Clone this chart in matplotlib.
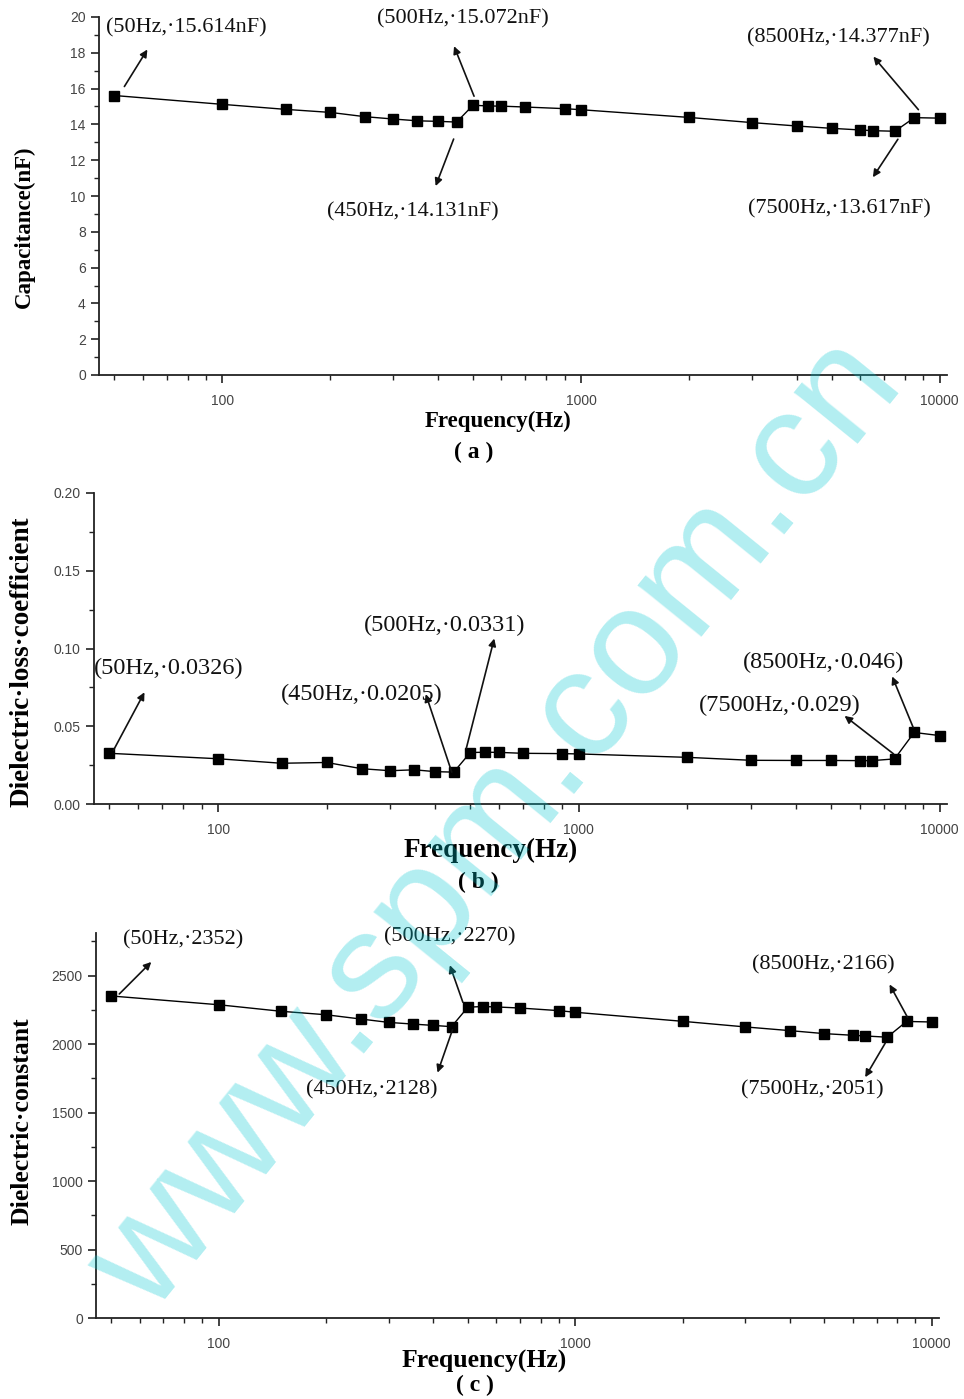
import matplotlib
matplotlib.use("Agg")
import matplotlib.pyplot as plt
import matplotlib.ticker as mticker
from matplotlib.transforms import offset_copy

# frequencies shared by the three panels (Hz)
freq = [50, 100, 150, 200, 250, 300, 350, 400, 450, 500, 550, 600, 700, 900,
        1000, 2000, 3000, 4000, 5000, 6000, 6500, 7500, 8500, 10000]

# (a) capacitance, nF
capacitance = [15.614, 15.12, 14.84, 14.67, 14.43, 14.30, 14.20, 14.17, 14.131,
               15.072, 15.03, 15.02, 14.97, 14.88, 14.82, 14.39, 14.10, 13.91,
               13.78, 13.69, 13.65, 13.617, 14.377, 14.35]

# (b) dielectric loss coefficient
loss = [0.0326, 0.0291, 0.0262, 0.0267, 0.0227, 0.0214, 0.0220, 0.0208, 0.0205,
        0.0331, 0.0333, 0.0332, 0.0326, 0.0324, 0.0322, 0.0300, 0.0281, 0.0280,
        0.0280, 0.0279, 0.0279, 0.029, 0.046, 0.0440]

# (c) dielectric constant
permittivity = [2352, 2288, 2240, 2215, 2184, 2159, 2147, 2137, 2128,
                2270, 2275, 2272, 2264, 2245, 2233, 2167, 2126, 2099,
                2077, 2065, 2060, 2051, 2166, 2162]

# annotated points
note_freq = [50, 500, 450, 8500, 7500]
notes_a = ["(50Hz,·15.614nF)", "(500Hz,·15.072nF)", "(450Hz,·14.131nF)",
           "(8500Hz,·14.377nF)", "(7500Hz,·13.617nF)"]
notes_b = ["(50Hz,·0.0326)", "(500Hz,·0.0331)", "(450Hz,·0.0205)",
           "(8500Hz,·0.046)", "(7500Hz,·0.029)"]
notes_c = ["(50Hz,·2352)", "(500Hz,·2270)", "(450Hz,·2128)",
           "(8500Hz,·2166)", "(7500Hz,·2051)"]

# layout of annotations in pixels from the point: tail, head, text centre
lay_a = [((10, 9), (33, 46), (72, 68)),
         ((1, 9), (-19, 59), (-10, 86)),
         ((-3, -17), (-21, -64), (-44, -90)),
         ((4, 8), (-41, 61), (-76, 80)),
         ((3, -8), (-22, -46), (-56, -78))]
lay_b = [((4, 3), (35, 61), (59, 85)),
         ((-4, 4), (24, 114), (-26, 127)),
         ((-2, 0), (-28, 78), (-92, 78)),
         ((-1, 5), (-22, 56), (-91, 70)),
         ((-1, 5), (-50, 43), (-115, 53))]
lay_c = [((8, 2), (40, 34), (72, 56)),
         ((-5, 5), (-18, 42), (-18, 70)),
         ((1, -3), (-14, -46), (-80, -63)),
         ((1, 4), (-17, 37), (-83, 57)),
         ((-2, -6), (-22, -40), (-75, -53))]

serif = "Liberation Serif"
sans = "Liberation Sans"

fig = plt.figure(figsize=(9.64, 13.99), dpi=100)


def draw_panel(rect, y, ylim, major, minor, fmt, ylabel, ylab_xy, xlab_xy,
               notes, lay, note_size, xlab_size, ylab_size):
    ax = fig.add_axes(rect)
    ax.plot(freq, y, color="black", lw=1.0, marker="s", ms=7.5,
            mfc="black", mec="black", zorder=3)
    ax.set_xscale("log")
    ax.set_xlim(45.3, 10480)
    ax.set_ylim(*ylim)
    for s in ["top", "right"]:
        ax.spines[s].set_visible(False)
    for s in ["left", "bottom"]:
        ax.spines[s].set_linewidth(1.3)
        ax.spines[s].set_color("#222222")

    ax.xaxis.set_major_locator(mticker.FixedLocator([100, 1000, 10000]))
    ax.xaxis.set_major_formatter(mticker.FixedFormatter(["100", "1000", "10000"]))
    ax.xaxis.set_minor_locator(mticker.LogLocator(base=10, subs=range(2, 10)))
    ax.xaxis.set_minor_formatter(mticker.NullFormatter())
    ax.yaxis.set_major_locator(mticker.MultipleLocator(major))
    ax.yaxis.set_minor_locator(mticker.MultipleLocator(minor))
    ax.yaxis.set_major_formatter(mticker.FormatStrFormatter(fmt))
    ax.tick_params(which="major", direction="out", length=6, width=1.2,
                   color="#222222", labelsize=10, labelcolor="#444444")
    ax.tick_params(which="minor", direction="out", length=3.5, width=1.0,
                   color="#222222")
    ax.tick_params(axis="x", pad=8)
    for lab in ax.get_xticklabels() + ax.get_yticklabels():
        lab.set_family(sans)

    ax.set_xlabel("Frequency(Hz)", family=serif, fontweight="bold",
                  fontsize=xlab_size, va="center")
    ax.xaxis.set_label_coords(*xlab_xy)
    ax.set_ylabel(ylabel, family=serif, fontweight="bold",
                  fontsize=ylab_size, va="center")
    ax.yaxis.set_label_coords(*ylab_xy)

    for f, txt, (tail, head, tpos) in zip(note_freq, notes, lay):
        v = y[freq.index(f)]
        # arrow starts next to the point and points at the label
        tr_head = offset_copy(ax.transData, fig=fig, x=head[0], y=head[1],
                              units="dots")
        tr_tail = offset_copy(ax.transData, fig=fig, x=tail[0], y=tail[1],
                              units="dots")
        ax.annotate("", xy=(f, v), xycoords=tr_head,
                    xytext=(f, v), textcoords=tr_tail,
                    arrowprops=dict(arrowstyle="-|>", color="#111111",
                                    lw=1.2, shrinkA=0, shrinkB=0,
                                    mutation_scale=11))
        tr_text = offset_copy(ax.transData, fig=fig, x=tpos[0], y=tpos[1],
                              units="dots")
        ax.text(f, v, txt, transform=tr_text, ha="center", va="center",
                family=serif, fontsize=note_size, color="#111111")
    return ax


draw_panel([99 / 964, 1 - 375 / 1399, 848 / 964, 358 / 1399],
           capacitance, (0, 20), 2, 1, "%d", "Capacitance(nF)",
           (-0.088, 0.415), (0.47, -0.131),
           notes_a, lay_a, 16, 16.5, 16.5)

draw_panel([94 / 964, 1 - 804 / 1399, 853 / 964, 311 / 1399],
           loss, (0, 0.2), 0.05, 0.025, "%.2f", "Dielectric·loss·coefficient",
           (-0.084, 0.458), (0.465, -0.148),
           notes_b, lay_b, 17.5, 19.5, 19.5)

draw_panel([96 / 964, 1 - 1318 / 1399, 843 / 964, 385 / 1399],
           permittivity, (0, 2812), 500, 250, "%d", "Dielectric·constant",
           (-0.088, 0.512), (0.46, -0.112),
           notes_c, lay_c, 16, 18.5, 18.5)

for x, y, t in [(474, 452, "( a )"), (478, 882, "( b )"), (475, 1385, "( c )")]:
    fig.text(x / 964, 1 - y / 1399, t, ha="center", va="center",
             family=serif, fontweight="bold", fontsize=17)

# site watermark drawn over the figure
fig.text(0.516, 0.41, "www.spm.com.cn", rotation=51, ha="center", va="center",
         family=sans, fontsize=111, color="#00c8d2", alpha=0.3, zorder=10)

fig.savefig("out.png", dpi=100)
